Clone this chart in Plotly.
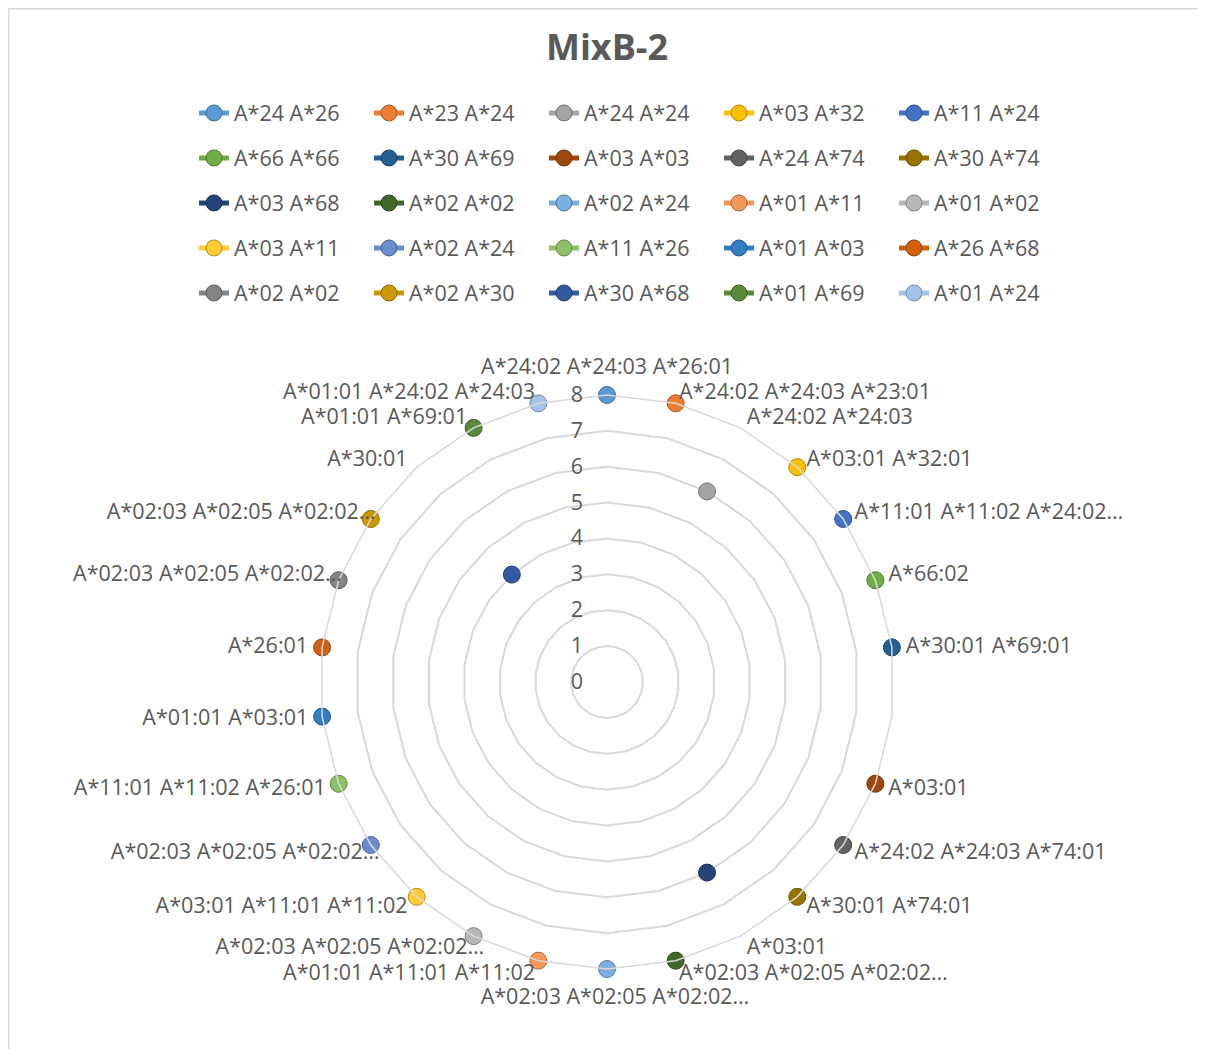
import plotly.graph_objects as go

# ---------------- data ----------------
categories = [
    "A*24:02 A*24:03 A*26:01", "A*24:02 A*24:03 A*23:01", "A*24:02 A*24:03",
    "A*03:01 A*32:01", "A*11:01 A*11:02 A*24:02…", "A*66:02", "A*30:01 A*69:01",
    "", "A*03:01", "A*24:02 A*24:03 A*74:01", "A*30:01 A*74:01", "A*03:01",
    "A*02:03 A*02:05 A*02:02…", "A*02:03 A*02:05 A*02:02…", "A*01:01 A*11:01 A*11:02",
    "A*02:03 A*02:05 A*02:02…", "A*03:01 A*11:01 A*11:02", "A*02:03 A*02:05 A*02:02…",
    "A*11:01 A*11:02 A*26:01", "A*01:01 A*03:01", "A*26:01", "A*02:03 A*02:05 A*02:02…",
    "A*02:03 A*02:05 A*02:02…", "A*30:01", "A*01:01 A*69:01", "A*01:01 A*24:02 A*24:03",
]

series_names = [
    "A*24 A*26", "A*23 A*24", "A*24 A*24", "A*03 A*32", "A*11 A*24",
    "A*66 A*66", "A*30 A*69", "A*03 A*03", "A*24 A*74", "A*30 A*74",
    "A*03 A*68", "A*02 A*02", "A*02 A*24", "A*01 A*11", "A*01 A*02",
    "A*03 A*11", "A*02 A*24", "A*11 A*26", "A*01 A*03", "A*26 A*68",
    "A*02 A*02", "A*02 A*30", "A*30 A*68", "A*01 A*69", "A*01 A*24",
]

# category (by position in `categories`) where each series has its value
series_category = [0, 1, 2, 3, 4, 5, 6, 8, 9, 10, 11, 12, 13, 14, 15,
                   16, 17, 18, 19, 20, 21, 22, 23, 24, 25]
series_values = [8, 8, 6, 8, 8, 8, 8, 8, 8, 8, 6, 8, 8, 8, 8,
                 8, 8, 8, 8, 8, 8, 8, 4, 8, 8]

radial_ticks = [0, 1, 2, 3, 4, 5, 6, 7, 8]

# ---------------- styles ----------------
colors = [
    "#5B9BD5", "#ED7D31", "#A5A5A5", "#FFC000", "#4472C4", "#70AD47",
    "#255E91", "#9E480E", "#636363", "#997300", "#264478", "#43682B",
    "#7CAFDD", "#F1975A", "#B7B7B7", "#FFCD33", "#698ED0", "#8CC168",
    "#327DC2", "#D26012", "#848484", "#CC9A00", "#335AA1", "#5A8A39",
    "#A3C4E8",
]

# label nudges (page px: dx right, dy up) to mimic Excel's label placement
label_nudge = [
    (0, 3), (0, -11), (0, -9), (0, -7), (0, -4), (0, 0), (0, 0), (0, 0),
    (0, 8), (0, 12), (0, 15), (0, 17), (0, 17), (8, 0), (0, 17), (17, 17),
    (0, 15), (20, 12), (0, 8), (0, 3), (0, 0), (16, 0), (16, -4), (0, -7),
    (0, -9), (0, -11),
]


def darker(hexc, f=0.7):
    h = hexc.lstrip("#")
    r, g, b = (int(h[i:i + 2], 16) for i in (0, 2, 4))
    return "#%02X%02X%02X" % (int(r * f), int(g * f), int(b * f))


# unique category keys (zero-width spaces keep duplicates distinct)
cat_keys = [c + "\u200b" * i for i, c in enumerate(categories)]

FONT = "Open Sans"
TXT = "#595959"
GRID = "#D9D9D9"
OFF = 8                      # page body margin
W, H = 1206 - OFF, 1049 - OFF
cx, cy, R = 607, 682, 287


def fx(px):                  # page x -> paper fraction
    return (px - OFF) / W


def fy(py):                  # page y -> paper fraction (from bottom)
    return 1 - (py - OFF) / H


# group category labels by nudge -> one (overlaid) polar subplot per group
groups = {}
for i, nd in enumerate(label_nudge):
    groups.setdefault(nd, []).append(i)
group_keys = sorted(groups.keys(), key=lambda k: (k != (0, 0), k))
subplot_of = {k: ("polar" if n == 0 else f"polar{n + 1}") for n, k in enumerate(group_keys)}

fig = go.Figure()
for i, name in enumerate(series_names):
    r = [None] * len(categories)
    r[series_category[i]] = series_values[i]
    row = i // 5
    fig.add_trace(go.Scatterpolar(
        r=r, theta=cat_keys, name=name,
        mode="lines+markers",
        connectgaps=False,
        line=dict(color=colors[i], width=5),
        marker=dict(size=17, color=colors[i],
                    line=dict(color=darker(colors[i]), width=1)),
        legend="legend" if row == 0 else f"legend{row + 1}",
        hoverinfo="name+r",
        subplot="polar",
    ))

layout_updates = {}
for n, k in enumerate(group_keys):
    key = subplot_of[k]
    dx, dy = k
    idx = set(groups[k])
    main = (n == 0)
    if not main:
        # empty carrier trace so the label-only subplot is rendered
        fig.add_trace(go.Scatterpolar(r=[None], theta=[cat_keys[0]], subplot=key,
                                      showlegend=False, hoverinfo="skip",
                                      mode="markers"))
    pcx, pcy = cx + dx, cy - dy
    layout_updates[key] = dict(
        domain=dict(x=[fx(pcx - R), fx(pcx + R)], y=[fy(pcy + R), fy(pcy - R)]),
        bgcolor="white" if main else "rgba(0,0,0,0)",
        gridshape="linear",
        angularaxis=dict(
            type="category", categoryorder="array", categoryarray=cat_keys,
            direction="clockwise", rotation=90,
            tickmode="array",
            tickvals=cat_keys,
            ticktext=[categories[i] if i in idx else "" for i in range(len(categories))],
            showgrid=False, showline=main, linecolor=GRID, linewidth=1.5,
            ticks="outside", ticklen=9, tickcolor="rgba(0,0,0,0)",
            tickfont=dict(size=21.5, color=TXT, family=FONT),
        ),
        radialaxis=dict(
            range=[0, 8], tickvals=radial_ticks, angle=90, tickangle=90,
            side="counterclockwise", showline=False,
            ticks="outside", ticklen=16, tickcolor="rgba(0,0,0,0)",
            gridcolor=GRID, gridwidth=1.5, showgrid=main, showticklabels=main,
            visible=main,
            tickfont=dict(size=21.5, color=TXT, family=FONT),
        ),
    )

fig.update_layout(
    width=W, height=H,
    margin=dict(l=0, r=0, t=0, b=0),
    paper_bgcolor="white",
    plot_bgcolor="white",
    font=dict(family=FONT, color=TXT, size=21),
    title=dict(text="<b>MixB-2</b>", x=fx(607), xanchor="center",
               y=fy(47), yanchor="middle", yref="container",
               font=dict(family=FONT, size=36, color=TXT)),
    showlegend=True,
    shapes=[dict(type="rect", xref="paper", yref="paper",
                 x0=0.8 / W, x1=1.01, y0=-0.01, y1=1 - 0.8 / H,
                 line=dict(color=GRID, width=1.5), fillcolor="rgba(0,0,0,0)")],
    **layout_updates,
)

row_y = [113, 158, 203, 248, 293]
for k, yy in enumerate(row_y):
    key = "legend" if k == 0 else f"legend{k + 1}"
    fig.update_layout({key: dict(
        orientation="h", x=fx(194), xanchor="left",
        y=fy(yy), yanchor="middle",
        entrywidth=130, entrywidthmode="pixels",
        bgcolor="rgba(0,0,0,0)", borderwidth=0,
        font=dict(family=FONT, size=21.5, color=TXT),
        itemclick=False, itemdoubleclick=False,
    )})

fig.write_html("out.html")
